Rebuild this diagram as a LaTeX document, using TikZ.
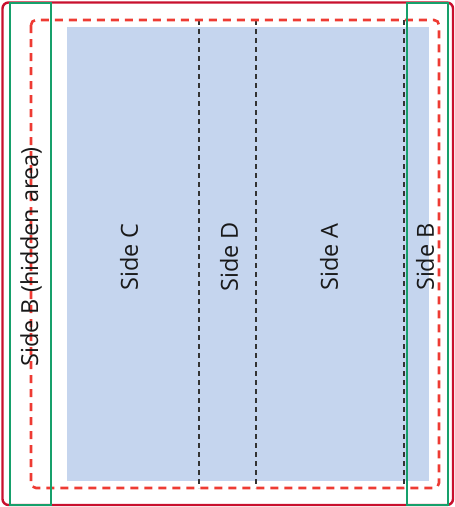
\documentclass[tikz,border=0pt]{standalone}
\usepackage{fontspec}
\setmainfont{Open Sans}
\usepackage{tikz}
\usetikzlibrary{positioning}

\definecolor{edgered}{HTML}{C8102E}
\definecolor{safered}{HTML}{EE3B33}
\definecolor{foldgreen}{HTML}{16A06B}
\definecolor{paneblue}{HTML}{C5D5EE}

\begin{document}
\begin{tikzpicture}[x=1pt, y=-1pt,
  sidelabel/.style={rotate=90, font=\fontsize{23.5}{26}\selectfont, text=black!90, inner sep=0pt},
  trim/.style={draw=edgered, line width=2.4pt, rounded corners=6pt},
  safe/.style={draw=safered, line width=2.6pt, dash pattern=on 8pt off 6pt, rounded corners=5pt},
  flap/.style={draw=foldgreen, line width=2.8pt},
  fold/.style={draw=black!80, line width=1.1pt, dash pattern=on 5pt off 4pt}]
\useasboundingbox (0,0) rectangle (455,507);
% printable panel
\fill[paneblue] (67,27) rectangle (429,481);
% fold lines
\draw[fold] (199,20) -- (199,488);
\draw[fold] (256,20) -- (256,488);
\draw[fold] (404,20) -- (404,488);
% safe area and trim edge
\draw[safe] (31,20) rectangle (439,488);
\draw[trim] (2.5,2.5) rectangle (453,505);
% flaps for side B
\draw[flap] (10,3) rectangle (51,505);
\draw[flap] (407,3) rectangle (448,505);

\node[sidelabel] (hidden) at (31,257) {Side B (hidden area)};
\node[sidelabel] (sideC) at (129,257) {Side C};
\node[sidelabel] (sideD) at (229,257) {Side D};
\node[sidelabel] (sideA) at (329,257) {Side A};
\node[sidelabel] (sideB) at (425,257) {Side B};
\end{tikzpicture}
\end{document}
